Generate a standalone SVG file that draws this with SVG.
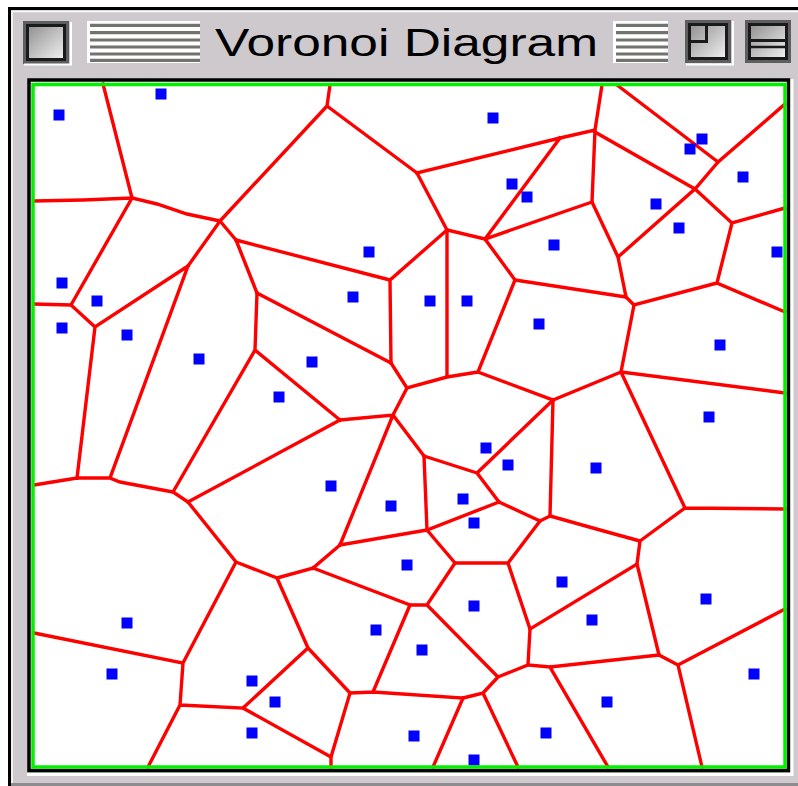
<svg xmlns="http://www.w3.org/2000/svg" width="798" height="786" viewBox="0 0 798 786">
<style>
.e{stroke:#ff0000;stroke-width:3.4;fill:none;stroke-linecap:square;stroke-linejoin:miter}
.s{fill:#0000ff}
.stripe{stroke:#6f746f;stroke-width:3.2}
.ttl{font-family:"Liberation Sans","DejaVu Sans",sans-serif;font-size:38px;fill:#000}
</style>
<defs>
<linearGradient id="bx" x1="0" y1="0" x2="1" y2="1">
<stop offset="0" stop-color="#8f8f8f"/>
<stop offset="1" stop-color="#f2f2f2"/>
</linearGradient>
</defs>
<rect x="0" y="0" width="798" height="786" fill="#ffffff"/>
<g id="window">
<rect x="9.5" y="8.5" width="800" height="790" fill="#cdc9cd" stroke="#000" stroke-width="3"/>
<polyline points="12,784 12,11.5 798,11.5" fill="none" stroke="#fff" stroke-width="1.5"/>
<rect x="11" y="783" width="787" height="3" fill="#8e8c8e"/>
</g>
<g id="titlebar">
<rect x="23" y="21" width="46" height="43" fill="#5e5e5e"/>
<rect x="27.5" y="25.5" width="37" height="34" fill="url(#bx)" stroke="#1a1a1a" stroke-width="3"/>
<polyline points="71,22 71,64.5 24,64.5" fill="none" stroke="#fff" stroke-width="2"/>
<rect x="87" y="21" width="113" height="42" fill="#fff"/>
<g class="stripe">
<line x1="90" y1="25.3" x2="200" y2="25.3"/>
<line x1="90" y1="32.7" x2="200" y2="32.7"/>
<line x1="90" y1="40" x2="200" y2="40"/>
<line x1="90" y1="47" x2="200" y2="47"/>
<line x1="90" y1="54" x2="200" y2="54"/>
<line x1="90" y1="60.3" x2="200" y2="60.3"/>
</g>
<text class="ttl" x="215" y="56" textLength="383" lengthAdjust="spacingAndGlyphs">Voronoi Diagram</text>
<rect x="613" y="21" width="55" height="42" fill="#fff"/>
<g class="stripe">
<line x1="616" y1="25.3" x2="668" y2="25.3"/>
<line x1="616" y1="32.7" x2="668" y2="32.7"/>
<line x1="616" y1="40" x2="668" y2="40"/>
<line x1="616" y1="47" x2="668" y2="47"/>
<line x1="616" y1="54" x2="668" y2="54"/>
<line x1="616" y1="60.3" x2="668" y2="60.3"/>
</g>
<g id="zoombox">
<rect x="685" y="20" width="46" height="43" fill="#5e5e5e"/>
<rect x="689.5" y="24.5" width="37" height="34" fill="url(#bx)" stroke="#1a1a1a" stroke-width="3"/>
<polyline points="706.5,25 706.5,41.5 690,41.5" fill="none" stroke="#1a1a1a" stroke-width="3"/>
<polyline points="733,21 733,64.5 686,64.5" fill="none" stroke="#fff" stroke-width="2"/>
</g>
<g id="collapsebox">
<rect x="745" y="20" width="46" height="43" fill="#5e5e5e"/>
<rect x="749.5" y="24.5" width="37" height="34" fill="url(#bx)" stroke="#1a1a1a" stroke-width="3"/>
<line x1="750" y1="40.5" x2="787" y2="40.5" stroke="#1a1a1a" stroke-width="3"/>
<line x1="750" y1="47" x2="787" y2="47" stroke="#1a1a1a" stroke-width="2.5"/>
</g>
</g>
<g id="content-frame">
<rect x="29" y="80" width="759.5" height="690.5" fill="#fff" stroke="#000" stroke-width="3.5"/>
<polyline points="792,79 792,774.5 27,774.5" fill="none" stroke="#fff" stroke-width="3"/>
</g>
<g id="connectors" class="e">
<path d="M103,84 L132,198 M34,201 L83,200 L132,198 M132,198 L157,204 L187,214 L220,221 M220,221 L327,106 M327,106 L330,85 M327,106 L417,173 M220,221 L236,240 M220,221 L188,266"/>
<path d="M132,198 L71,305 M34,304 L71,305 M71,305 L95,327 M95,327 L188,266 M95,327 L77,478 M34,485 L77,478 L110,478 M110,478 L120,482 L173,492 M188,266 L110,478"/>
<path d="M173,492 L255,350 M173,492 L188,502 M255,350 L257,293 M257,293 L236,240 M255,350 L340,420 M257,293 L391,363 M236,240 L390,280 M390,280 L391,363 M390,280 L447,230 M447,230 L417,173"/>
<path d="M417,173 L560,138 M447,230 L485,239 M485,239 L560,138 M485,239 L592,202 M485,239 L515,280 M447,230 L447,377 M391,363 L407,388 M407,388 L447,377 M447,377 L478,372 M478,372 L515,280 M478,372 L553,400"/>
<path d="M407,388 L393,415 M393,415 L340,420 M188,502 L340,420 M393,415 L424,456 M393,415 L340,545 M424,456 L477,473 M424,456 L427,530 M477,473 L553,400 M477,473 L499,502 M499,502 L540,521 M540,521 L550,516 M553,400 L550,516"/>
<path d="M553,400 L621,372 M621,372 L634,305 M621,372 L785,393 M621,372 L685,508 M685,508 L785,509 M685,508 L640,541 M550,516 L600,530 L640,541 M640,541 L637,564 M637,564 L659,655 M637,564 L530,629"/>
<path d="M427,530 L499,502 M340,545 L427,530 M427,530 L455,563 M455,563 L508,563 M508,563 L540,521 M508,563 L530,629 L528,665 M528,665 L550,667 L659,655 M659,655 L678,665 M678,665 L785,609 M678,665 L702,767 M550,667 L608,767"/>
<path d="M528,665 L498,677 M498,677 L483,693 M483,693 L518,767 M483,693 L463,698 M463,698 L433,767 M463,698 L373,692 M373,692 L350,693 M373,692 L410,605 M410,605 L427,605 M427,605 L455,563 M427,605 L498,677"/>
<path d="M410,605 L313,568 M313,568 L340,545 M313,568 L277,578 M277,578 L236,562 M236,562 L188,502 M277,578 L308,648 M308,648 L350,693 M350,693 L331,757 M331,757 L331,767 M308,648 L243,708 M243,708 L331,757 M243,708 L180,705 M180,705 L148,767 M180,705 L183,663 M183,663 L34,633 M183,663 L236,562"/>
<path d="M515,280 L626,297 M626,297 L618,257 M626,297 L634,305 M634,305 L717,283 M717,283 L785,312 M717,283 L732,223 M732,223 L785,208 M732,223 L695,189 M695,189 L618,257 M618,257 L592,202 M592,202 L595,130 M595,130 L602,85 M595,130 L560,138 M595,132 L695,189 M695,189 L718,162 M718,162 L617,85 M718,162 L785,104"/>
</g>
<g id="sites" class="s">
<rect x="53.5" y="109.5" width="11" height="11"/>
<rect x="155.5" y="88.5" width="11" height="11"/>
<rect x="487.5" y="112.5" width="11" height="11"/>
<rect x="696.5" y="133.5" width="11" height="11"/>
<rect x="684.5" y="143.5" width="11" height="11"/>
<rect x="737.5" y="171.5" width="11" height="11"/>
<rect x="506.5" y="178.5" width="11" height="11"/>
<rect x="521.5" y="191.5" width="11" height="11"/>
<rect x="650.5" y="198.5" width="11" height="11"/>
<rect x="673.5" y="222.5" width="11" height="11"/>
<rect x="548.5" y="239.5" width="11" height="11"/>
<rect x="363.5" y="246.5" width="11" height="11"/>
<rect x="771.5" y="246.5" width="11" height="11"/>
<rect x="56.5" y="277.5" width="11" height="11"/>
<rect x="91.5" y="295.5" width="11" height="11"/>
<rect x="347.5" y="291.5" width="11" height="11"/>
<rect x="424.5" y="295.5" width="11" height="11"/>
<rect x="461.5" y="295.5" width="11" height="11"/>
<rect x="56.5" y="322.5" width="11" height="11"/>
<rect x="121.5" y="329.5" width="11" height="11"/>
<rect x="533.5" y="318.5" width="11" height="11"/>
<rect x="193.5" y="353.5" width="11" height="11"/>
<rect x="306.5" y="356.5" width="11" height="11"/>
<rect x="714.5" y="339.5" width="11" height="11"/>
<rect x="273.5" y="391.5" width="11" height="11"/>
<rect x="703.5" y="411.5" width="11" height="11"/>
<rect x="480.5" y="442.5" width="11" height="11"/>
<rect x="502.5" y="459.5" width="11" height="11"/>
<rect x="590.5" y="462.5" width="11" height="11"/>
<rect x="325.5" y="480.5" width="11" height="11"/>
<rect x="457.5" y="493.5" width="11" height="11"/>
<rect x="385.5" y="500.5" width="11" height="11"/>
<rect x="468.5" y="517.5" width="11" height="11"/>
<rect x="401.5" y="559.5" width="11" height="11"/>
<rect x="556.5" y="576.5" width="11" height="11"/>
<rect x="700.5" y="593.5" width="11" height="11"/>
<rect x="121.5" y="617.5" width="11" height="11"/>
<rect x="468.5" y="600.5" width="11" height="11"/>
<rect x="586.5" y="614.5" width="11" height="11"/>
<rect x="370.5" y="624.5" width="11" height="11"/>
<rect x="416.5" y="644.5" width="11" height="11"/>
<rect x="106.5" y="668.5" width="11" height="11"/>
<rect x="246.5" y="675.5" width="11" height="11"/>
<rect x="748.5" y="668.5" width="11" height="11"/>
<rect x="269.5" y="696.5" width="11" height="11"/>
<rect x="601.5" y="696.5" width="11" height="11"/>
<rect x="246.5" y="727.5" width="11" height="11"/>
<rect x="408.5" y="730.5" width="11" height="11"/>
<rect x="540.5" y="727.5" width="11" height="11"/>
<rect x="468.5" y="754.5" width="11" height="11"/>
</g>
<rect id="plot-border" x="33" y="84.5" width="752" height="682.5" fill="none" stroke="#00f000" stroke-width="3.5"/>
</svg>
